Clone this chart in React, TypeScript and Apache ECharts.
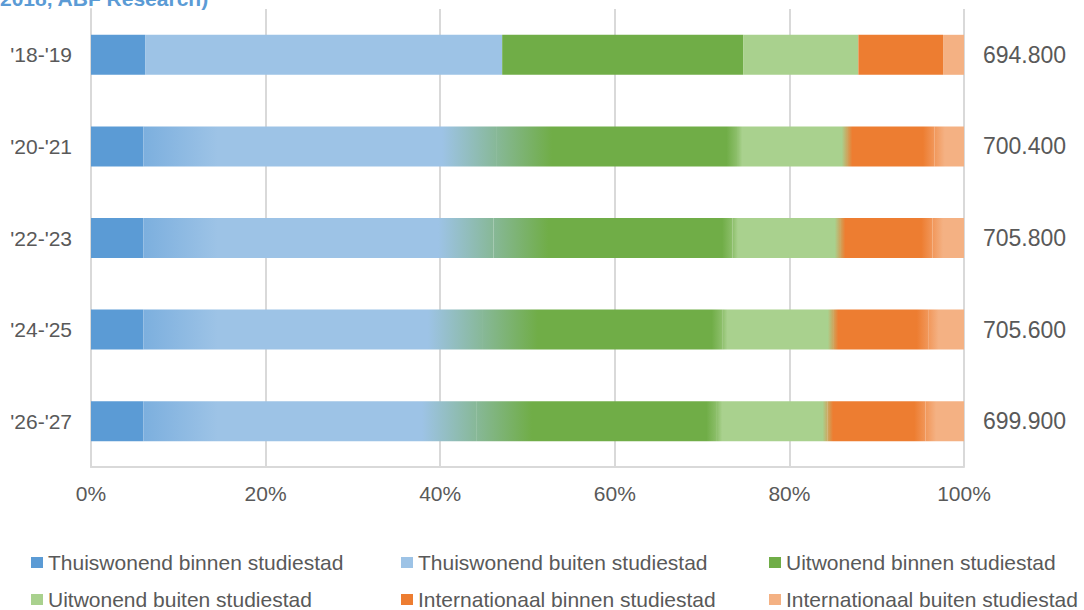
import React, { useEffect, useRef } from 'react';
import * as echarts from 'echarts';

const categories = ["'18-'19", "'20-'21", "'22-'23", "'24-'25", "'26-'27"];
const seriesNames = [
  'Thuiswonend binnen studiestad',
  'Thuiswonend buiten studiestad',
  'Uitwonend binnen studiestad',
  'Uitwonend buiten studiestad',
  'Internationaal binnen studiestad',
  'Internationaal buiten studiestad',
];
const thuiswonendBinnen = [6.2, 6.0, 6.0, 6.0, 6.0];
const thuiswonendBuiten = [40.9, 40.5, 40.1, 38.9, 38.2];
const uitwonendBinnen = [27.6, 27.5, 27.4, 27.4, 27.5];
const uitwonendBuiten = [13.2, 12.6, 12.3, 12.7, 12.7];
const internationaalBinnen = [9.7, 10.0, 10.6, 10.9, 11.2];
const internationaalBuiten = [2.4, 3.4, 3.6, 4.1, 4.4];
const totals = [694800, 700400, 705800, 705600, 699900];
const titleText = '2018, ABF Research)';

const allSeries = [
  thuiswonendBinnen,
  thuiswonendBuiten,
  uitwonendBinnen,
  uitwonendBuiten,
  internationaalBinnen,
  internationaalBuiten,
];

const colors = ['#5B9BD5', '#9DC3E6', '#70AD47', '#A9D18E', '#ED7D31', '#F4B183'];
const FONT = '"Liberation Sans", Arial, Helvetica, sans-serif';
const TEXT = '#595959';

// blurred transitions between segments (style, in axis percent)
const BLEND_LEFT = [0, 6.3, 1.2, 0.6, 1.3];
const BLEND_RIGHT = [8.5, 6.3, 0.6, 0.6, 1.2];
const BLURRED = [false, true, true, true, true];

function hexToRgb(h: string) {
  const v = parseInt(h.slice(1), 16);
  return [(v >> 16) & 255, (v >> 8) & 255, v & 255];
}
function mix(a: string, b: string, t: number) {
  const A = hexToRgb(a);
  const B = hexToRgb(b);
  const c = A.map((x, i) => Math.round(x + (B[i] - x) * t));
  return `rgb(${c[0]},${c[1]},${c[2]})`;
}

function segmentColor(i: number, row: number) {
  if (!BLURRED[row]) return colors[i];
  const L = allSeries[i][row];
  const stops: { offset: number; color: string }[] = [];
  if (i > 0) {
    stops.push({ offset: 0, color: mix(colors[i - 1], colors[i], 0.5) });
    stops.push({ offset: Math.min(BLEND_RIGHT[i - 1] / L, 0.5), color: colors[i] });
  } else {
    stops.push({ offset: 0, color: colors[i] });
  }
  if (i < colors.length - 1) {
    const lw = BLEND_LEFT[i];
    if (lw > 0) {
      stops.push({ offset: Math.max(1 - lw / L, 0.5), color: colors[i] });
      stops.push({ offset: 1, color: mix(colors[i], colors[i + 1], 0.5) });
    } else {
      stops.push({ offset: 1, color: colors[i] });
    }
  } else {
    stops.push({ offset: 1, color: colors[i] });
  }
  return new echarts.graphic.LinearGradient(0, 0, 1, 0, stops);
}

function fmtTotal(v: number) {
  return String(v).replace(/\B(?=(\d{3})+(?!\d))/g, '.');
}

const legendLefts = [31, 401, 769];
const legendTops = [552, 589];

export default function App() {
  const ref = useRef<HTMLDivElement>(null);
  useEffect(() => {
    document.body.style.margin = '0';
    if (!ref.current) return;
    const chart = echarts.init(ref.current, null, { renderer: 'svg' });
    chart.setOption({
      animation: false,
      backgroundColor: '#ffffff',
      textStyle: { fontFamily: FONT },
      graphic: [
        {
          type: 'text',
          x: 0,
          y: 9,
          style: {
            text: titleText,
            fontSize: 21,
            fontWeight: 'bold',
            fontFamily: FONT,
            fill: '#5B9BD5',
            verticalAlign: 'bottom',
            align: 'left',
          },
        },
      ],
      legend: seriesNames.map((n, i) => ({
        data: [n],
        left: legendLefts[i % 3],
        top: legendTops[Math.floor(i / 3)],
        padding: 0,
        itemGap: 0,
        itemWidth: 12,
        itemHeight: 11,
        icon: 'rect',
        selectedMode: false,
        textStyle: { fontSize: 21, color: TEXT, fontFamily: FONT, padding: [0, 0, 0, 0] },
      })),
      grid: { left: 91, right: 120, top: 9, bottom: 143, containLabel: false },
      xAxis: {
        type: 'value',
        min: 0,
        max: 100,
        interval: 20,
        axisLine: { show: true, lineStyle: { color: '#d9d9d9', width: 2 } },
        axisTick: { show: false },
        axisLabel: { formatter: '{value}%', fontSize: 21, color: TEXT, fontFamily: FONT, margin: 16 },
        splitLine: { show: true, lineStyle: { color: '#d9d9d9', width: 2 } },
      },
      yAxis: [
        {
          type: 'category',
          inverse: true,
          data: categories,
          axisLine: { show: true, lineStyle: { color: '#d9d9d9', width: 2 } },
          axisTick: { show: false },
          axisLabel: { fontSize: 21, color: TEXT, fontFamily: FONT, margin: 19 },
        },
        {
          type: 'category',
          inverse: true,
          position: 'right',
          data: totals.map(fmtTotal),
          axisLine: { show: false },
          axisTick: { show: false },
          axisLabel: { fontSize: 23, color: TEXT, fontFamily: FONT, margin: 19 },
        },
      ],
      series: seriesNames.map((name, i) => ({
        name,
        type: 'bar',
        stack: 'total',
        barWidth: 40,
        itemStyle: { color: colors[i] },
        data: allSeries[i].map((v, row) => ({ value: v, itemStyle: { color: segmentColor(i, row) } })),
      })),
    });
    return () => chart.dispose();
  }, []);
  return <div ref={ref} style={{ width: 1084, height: 610 }} />;
}
